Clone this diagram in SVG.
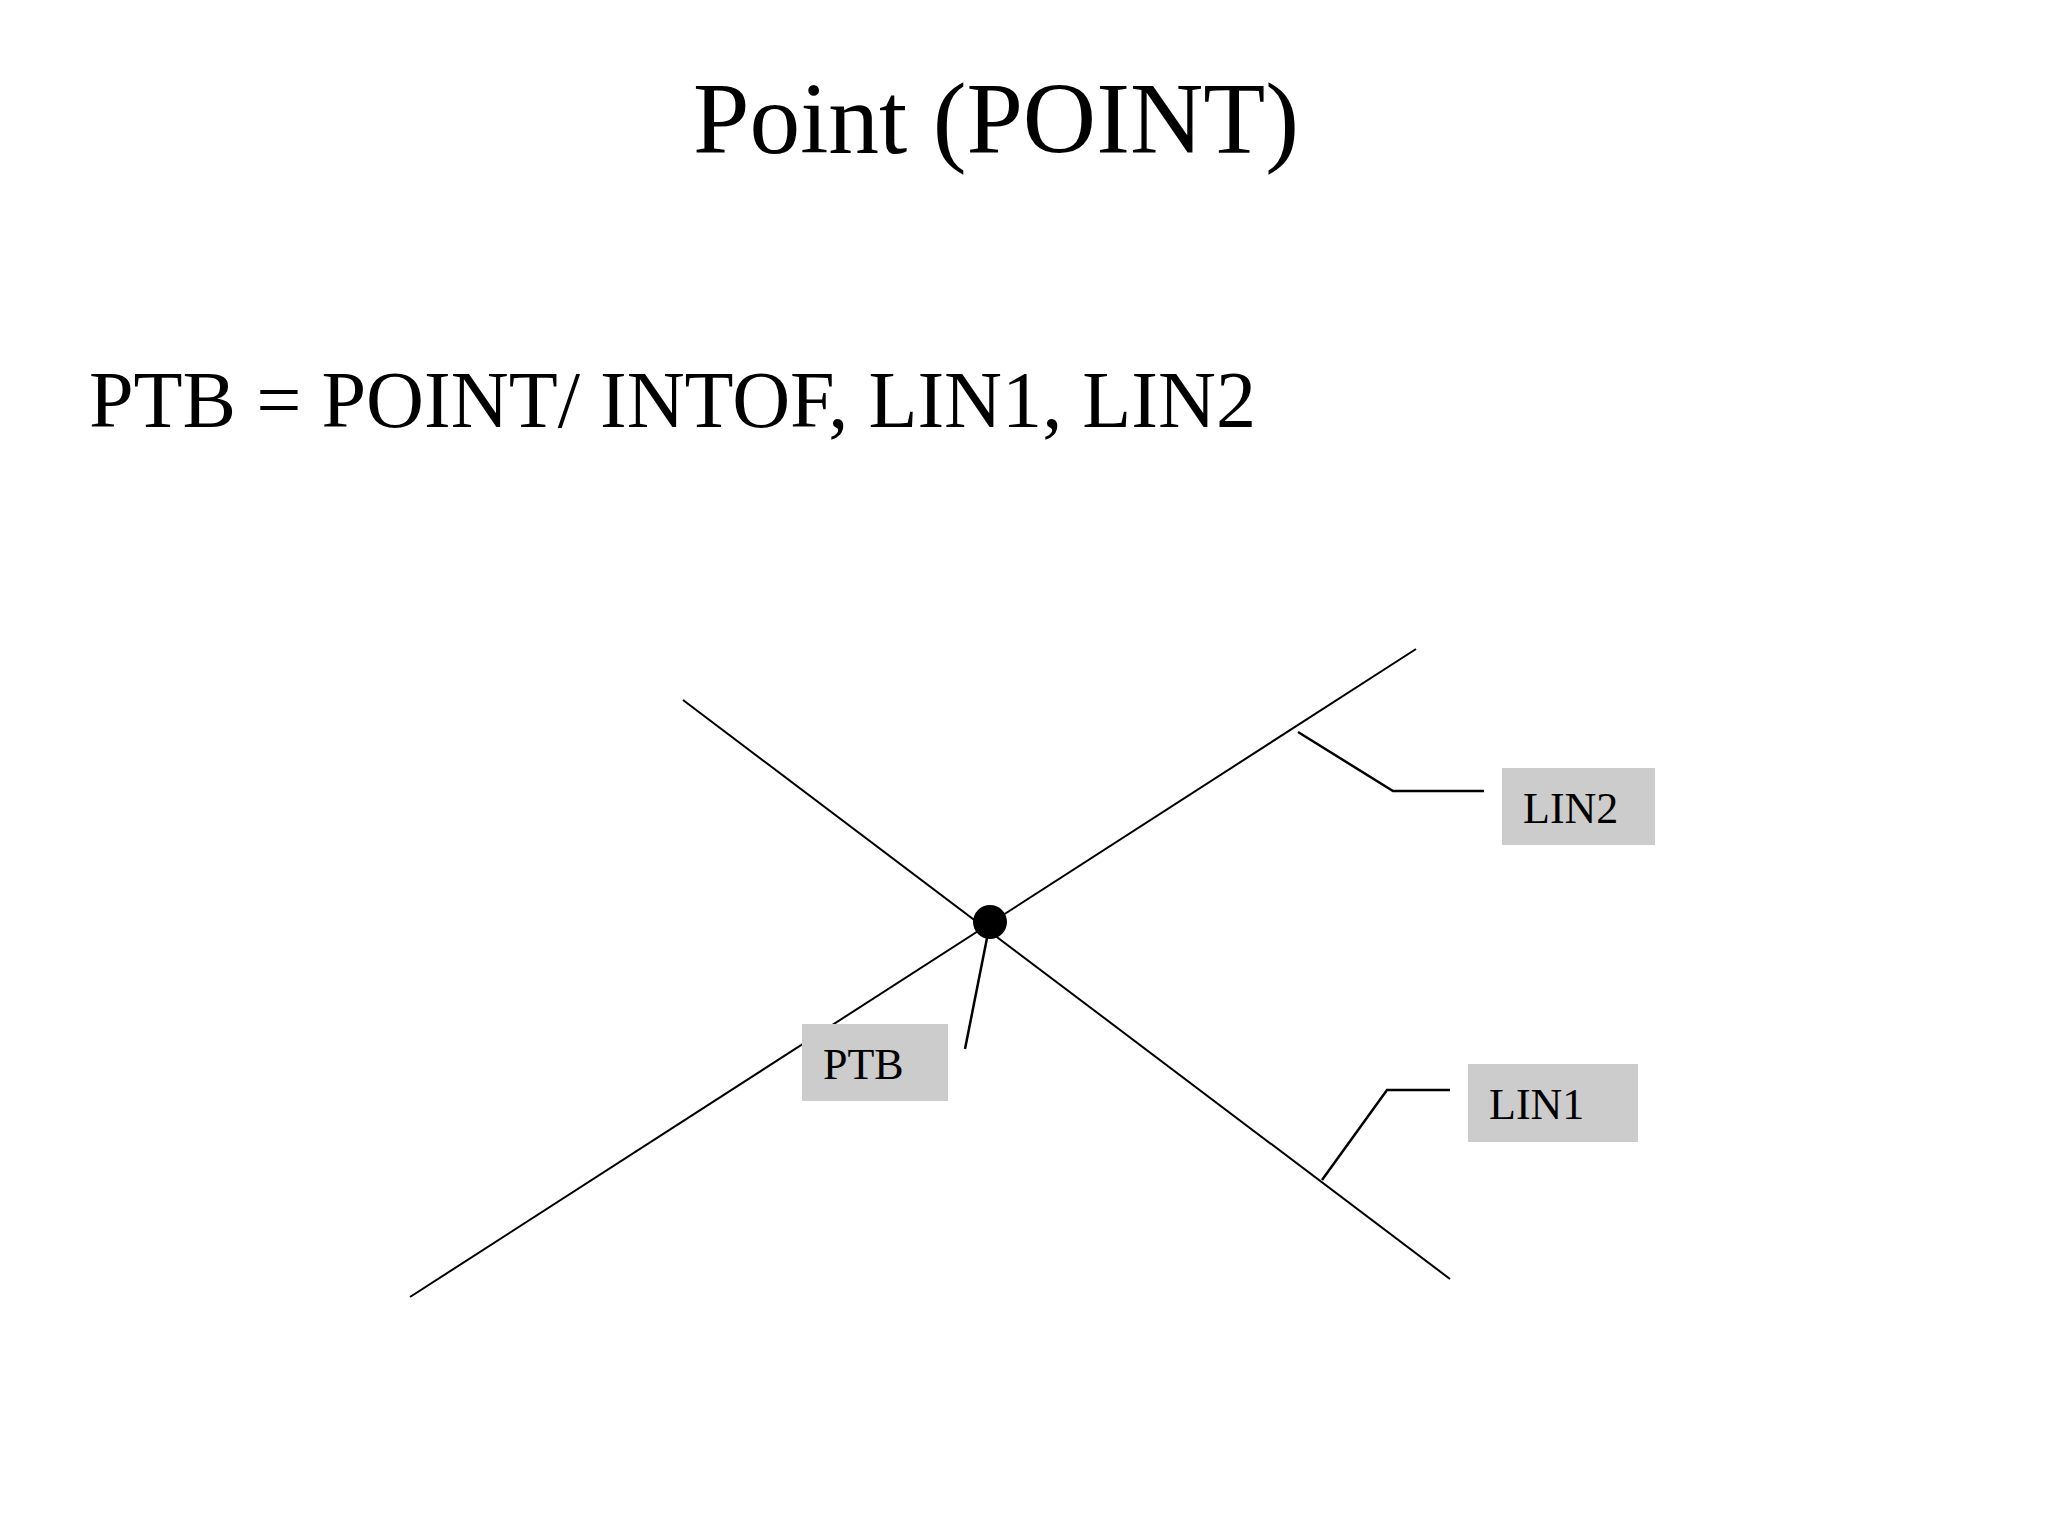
<svg xmlns="http://www.w3.org/2000/svg" width="2048" height="1536" viewBox="0 0 2048 1536">
<style>
.t{font-family:"Liberation Serif","Times New Roman",serif;fill:#000}
.ln{stroke:#000;stroke-width:2;fill:none}
.ld{stroke:#000;stroke-width:2.5;fill:none}
.box{fill:#cccccc}
</style>
<rect width="2048" height="1536" fill="#fff"/>
<text class="t" x="693" y="153" font-size="102" textLength="606" lengthAdjust="spacingAndGlyphs">Point (POINT)</text>
<text class="t" x="89" y="427" font-size="80" textLength="1167" lengthAdjust="spacingAndGlyphs">PTB = POINT/ INTOF, LIN1, LIN2</text>
<g id="connectors">
<line id="lin2-line" class="ln" x1="410" y1="1297" x2="1416" y2="649"/>
<line id="lin1-line" class="ln" x1="683" y1="700" x2="1450" y2="1279"/>
<polyline id="ptb-leader" class="ld" points="987,938 965,1049"/>
<polyline id="lin2-leader" class="ld" points="1298,732 1393,791 1484,791"/>
<polyline id="lin1-leader" class="ld" points="1322,1180 1387,1090 1450,1090"/>
</g>
<g id="point-ptb">
<circle cx="990" cy="922" r="17" fill="#000"/>
</g>
<g id="label-ptb">
<rect class="box" x="802" y="1024" width="146" height="77"/>
<text class="t" x="823" y="1079" font-size="44">PTB</text>
</g>
<g id="label-lin2">
<rect class="box" x="1502" y="768" width="153" height="77"/>
<text class="t" x="1523" y="823" font-size="44">LIN2</text>
</g>
<g id="label-lin1">
<rect class="box" x="1468" y="1064" width="170" height="78"/>
<text class="t" x="1489" y="1119" font-size="44">LIN1</text>
</g>
</svg>
